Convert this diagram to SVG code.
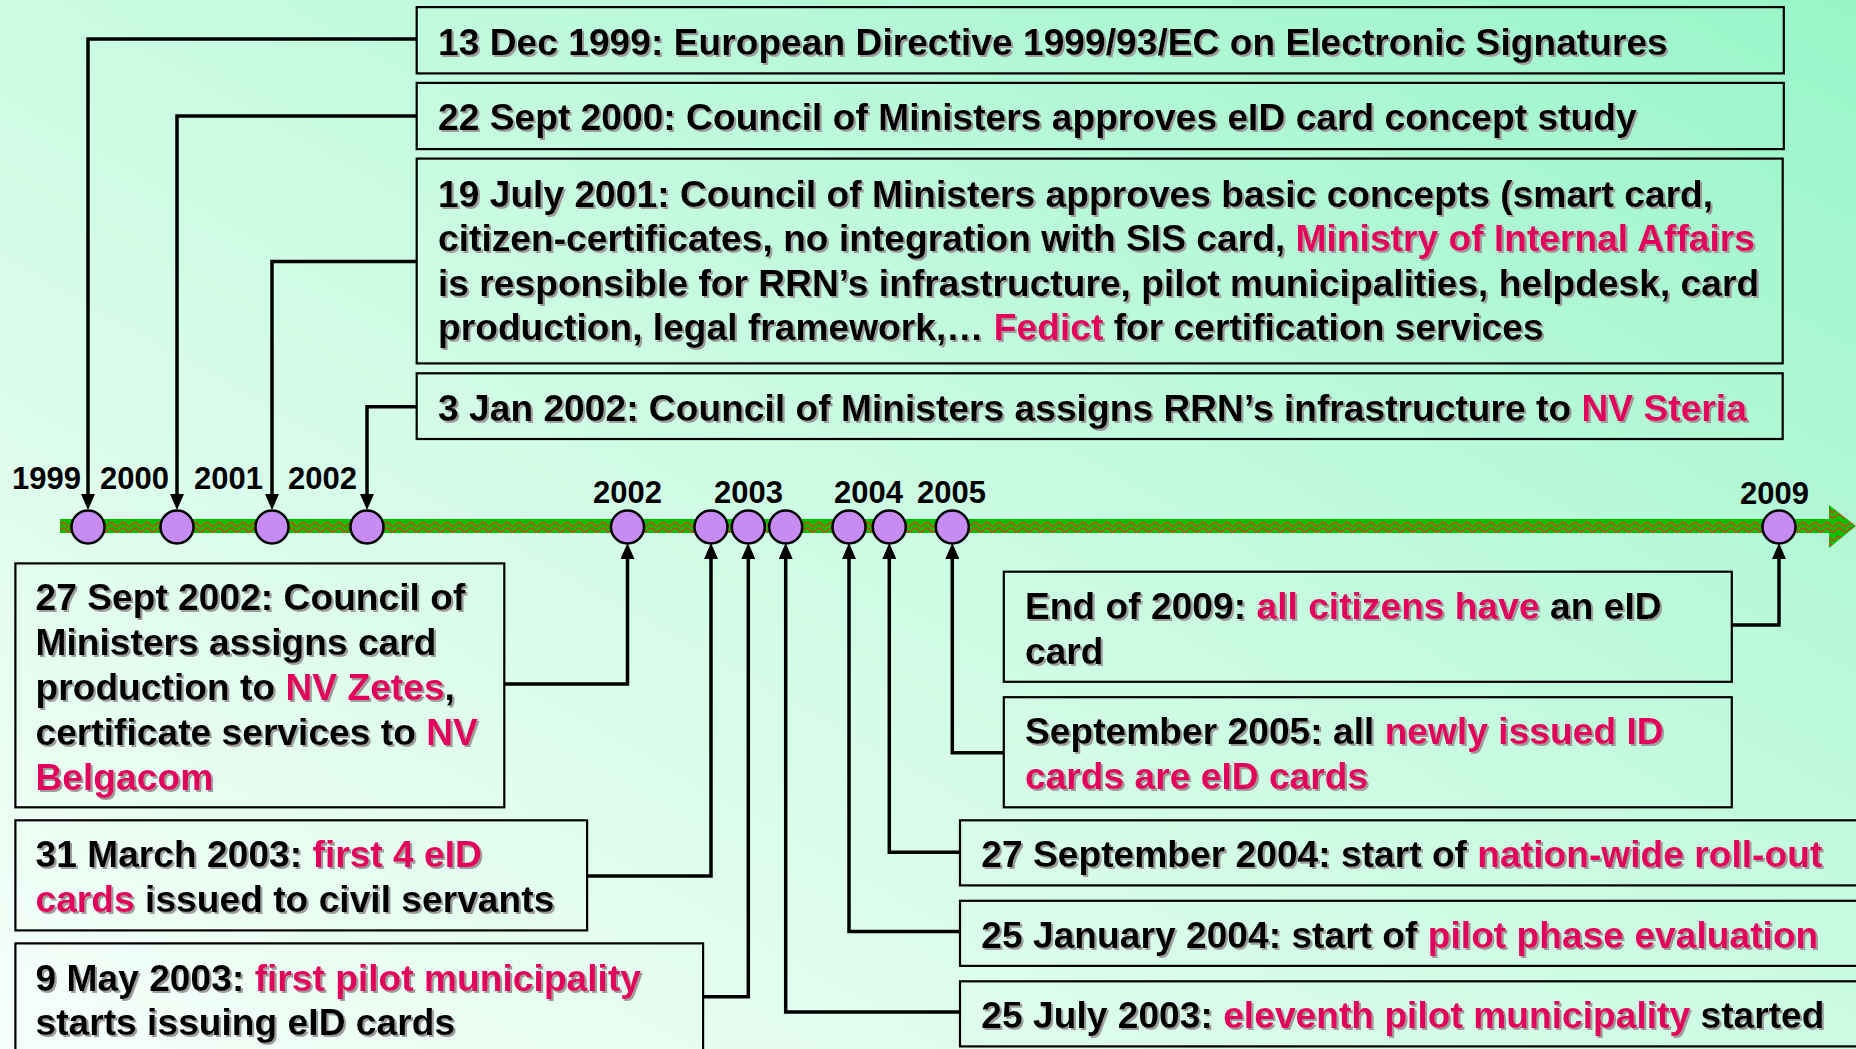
<svg xmlns="http://www.w3.org/2000/svg" width="1856" height="1049" viewBox="0 0 1856 1049">
<defs>
<linearGradient id="bg" x1="0" y1="1" x2="1" y2="0">
<stop offset="0" stop-color="#F6FFFA"/>
<stop offset="0.5" stop-color="#CCFBE3"/>
<stop offset="1" stop-color="#98F5C8"/>
</linearGradient>
<pattern id="wave" patternUnits="userSpaceOnUse" x="0" y="519" width="12" height="14">
<rect width="12" height="14" fill="#00BE00"/>
<path d="M0,5.5 Q3,1.5 6,5.5 T12,5.5 M0,11 Q3,7 6,11 T12,11" fill="none" stroke="#D9401A" stroke-width="1.3"/>
</pattern>
<marker id="ah" markerUnits="userSpaceOnUse" markerWidth="16" markerHeight="14" refX="10" refY="7" orient="auto">
<path d="M0,0 L16,7 L0,14 z" fill="#000"/>
</marker>
<filter id="sh" x="-5%" y="-20%" width="110%" height="140%">
<feDropShadow dx="2" dy="2" stdDeviation="0.3" flood-color="#9c9c9c" flood-opacity="1"/>
</filter>
</defs>
<style>
.box{fill:none;stroke:#000;stroke-width:2.2}
.t{font-family:"Liberation Sans",Arial,sans-serif;font-weight:bold;font-size:37.2px;fill:#000;filter:url(#sh)}
.p{fill:#E3005B}
.yr{font-family:"Liberation Sans",Arial,sans-serif;font-weight:bold;font-size:31px;fill:#000}
.dot{fill:#C68CF2;stroke:#000;stroke-width:2.5}
.con{fill:none;stroke:#000;stroke-width:3.5;marker-end:url(#ah)}
</style>
<rect width="1856" height="1049" fill="url(#bg)"/>

<g id="timeline">
<rect x="60" y="519" width="1769" height="14" fill="url(#wave)"/>
<polygon points="1829,505 1856,526 1829,548" fill="url(#wave)"/>
</g>

<g id="connectors">
<polyline class="con" points="416.7,39 88,39 88,504"/>
<polyline class="con" points="416.7,116 177,116 177,504"/>
<polyline class="con" points="416.7,261.6 272,261.6 272,504"/>
<polyline class="con" points="416.7,406.7 367,406.7 367,504"/>
<polyline class="con" points="504.3,684 627.5,684 627.5,549"/>
<polyline class="con" points="587,876 711,876 711,549"/>
<polyline class="con" points="703,996.7 748.3,996.7 748.3,549"/>
<polyline class="con" points="1731.8,625 1779,625 1779,549"/>
<polyline class="con" points="1003.8,752.8 952.3,752.8 952.3,549"/>
<polyline class="con" points="960,852.3 889.3,852.3 889.3,549"/>
<polyline class="con" points="960,931.6 849,931.6 849,549"/>
<polyline class="con" points="960,1012 785.7,1012 785.7,549"/>
</g>

<g id="milestones">
<circle class="dot" cx="88" cy="527" r="16.5"/>
<circle class="dot" cx="177" cy="527" r="16.5"/>
<circle class="dot" cx="272" cy="527" r="16.5"/>
<circle class="dot" cx="367" cy="527" r="16.5"/>
<circle class="dot" cx="627.5" cy="527" r="16.5"/>
<circle class="dot" cx="711" cy="527" r="16.5"/>
<circle class="dot" cx="748.3" cy="527" r="16.5"/>
<circle class="dot" cx="785.7" cy="527" r="16.5"/>
<circle class="dot" cx="849" cy="527" r="16.5"/>
<circle class="dot" cx="889.3" cy="527" r="16.5"/>
<circle class="dot" cx="952.3" cy="527" r="16.5"/>
<circle class="dot" cx="1779" cy="527" r="16.5"/>
</g>

<g id="year-labels">
<text class="yr" x="12" y="489">1999</text>
<text class="yr" x="100" y="489">2000</text>
<text class="yr" x="194" y="489">2001</text>
<text class="yr" x="288" y="489">2002</text>
<text class="yr" x="593" y="503">2002</text>
<text class="yr" x="714" y="503">2003</text>
<text class="yr" x="834" y="503">2004</text>
<text class="yr" x="917" y="503">2005</text>
<text class="yr" x="1740" y="504">2009</text>
</g>

<g id="ev-1999-12">
<rect class="box" x="416.7" y="7.1" width="1367.1" height="66.3"/>
<text class="t" x="438" y="55">13 Dec 1999: European Directive 1999/93/EC on Electronic Signatures</text>
</g>

<g id="ev-2000-09">
<rect class="box" x="416.7" y="82.9" width="1367.1" height="66.2"/>
<text class="t" x="438" y="129.7">22 Sept 2000: Council of Ministers approves eID card concept study</text>
</g>

<g id="ev-2001-07">
<rect class="box" x="416.7" y="158.6" width="1366" height="204.8"/>
<text class="t" x="438" y="206.6">19 July 2001: Council of Ministers approves basic concepts (smart card,</text>
<text class="t" x="438" y="251">citizen-certificates, no integration with SIS card, <tspan class="p">Ministry of Internal Affairs</tspan></text>
<text class="t" x="438" y="295.5">is responsible for RRN’s infrastructure, pilot municipalities, helpdesk, card</text>
<text class="t" x="438" y="340.2">production, legal framework,… <tspan class="p">Fedict</tspan> for certification services</text>
</g>

<g id="ev-2002-01">
<rect class="box" x="416.7" y="373.3" width="1366" height="65.7"/>
<text class="t" x="438" y="420.7">3 Jan 2002: Council of Ministers assigns RRN’s infrastructure to <tspan class="p">NV Steria</tspan></text>
</g>

<g id="ev-2002-09">
<rect class="box" x="15.4" y="563.4" width="488.9" height="243.9"/>
<text class="t" x="35.5" y="610.3">27 Sept 2002: Council of</text>
<text class="t" x="35.5" y="655.3">Ministers assigns card</text>
<text class="t" x="35.5" y="700.2">production to <tspan class="p">NV Zetes</tspan>,</text>
<text class="t" x="35.5" y="745.2">certificate services to <tspan class="p">NV</tspan></text>
<text class="t" x="35.5" y="790.2"><tspan class="p">Belgacom</tspan></text>
</g>

<g id="ev-2003-03">
<rect class="box" x="15.4" y="820.3" width="571.7" height="110.1"/>
<text class="t" x="35.5" y="867">31 March 2003: <tspan class="p">first 4 eID</tspan></text>
<text class="t" x="35.5" y="912"><tspan class="p">cards</tspan> issued to civil servants</text>
</g>

<g id="ev-2003-05">
<rect class="box" x="15.4" y="943.4" width="687.7" height="120"/>
<text class="t" x="35.5" y="991.4">9 May 2003: <tspan class="p">first pilot municipality</tspan></text>
<text class="t" x="35.5" y="1035.2">starts issuing eID cards</text>
</g>

<g id="ev-2009-end">
<rect class="box" x="1003.8" y="571.7" width="728" height="110.1"/>
<text class="t" x="1025" y="618.6">End of 2009: <tspan class="p">all citizens have</tspan> an eID</text>
<text class="t" x="1025" y="663.5">card</text>
</g>

<g id="ev-2005-09">
<rect class="box" x="1003.8" y="697.2" width="728" height="110.1"/>
<text class="t" x="1025" y="744">September 2005: all <tspan class="p">newly issued ID</tspan></text>
<text class="t" x="1025" y="789"><tspan class="p">cards are eID cards</tspan></text>
</g>

<g id="ev-2004-09">
<rect class="box" x="960" y="820.3" width="920" height="65.1"/>
<text class="t" x="981.3" y="867.1">27 September 2004: start of <tspan class="p">nation-wide roll-out</tspan></text>
</g>

<g id="ev-2004-01">
<rect class="box" x="960" y="900.8" width="920" height="65.1"/>
<text class="t" x="981.3" y="947.6">25 January 2004: start of <tspan class="p">pilot phase evaluation</tspan></text>
</g>

<g id="ev-2003-07">
<rect class="box" x="960" y="981.3" width="920" height="65.1"/>
<text class="t" x="981.3" y="1028">25 July 2003: <tspan class="p">eleventh pilot municipality</tspan> started</text>
</g>
</svg>
